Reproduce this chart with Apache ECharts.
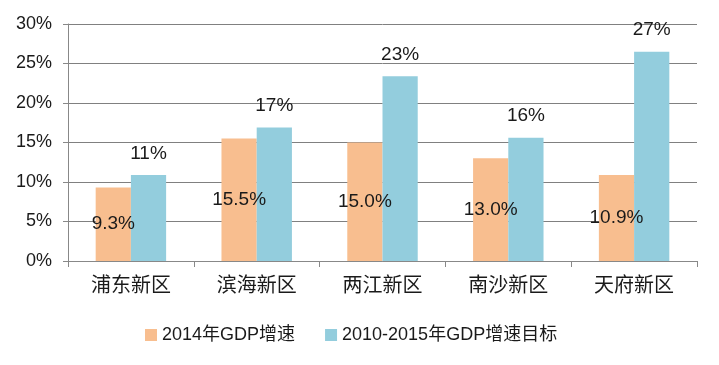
<!DOCTYPE html>
<html><head><meta charset="utf-8">
<script src="https://cdn.jsdelivr.net/npm/echarts@6/dist/echarts.min.js"></script>
<style>html,body{margin:0;padding:0;background:#fff}#c{width:719px;height:365px}</style>
</head><body><div id="c"></div>
<script>
const categories = ["浦东新区","滨海新区","两江新区","南沙新区","天府新区"];
const seriesNames = ["2014年GDP增速","2010-2015年GDP增速目标"];
const gdp2014 = [9.3, 15.5, 15.0, 13.0, 10.9];
const gdp2014Labels = ["9.3%","15.5%","15.0%","13.0%","10.9%"];
const target = [10.9, 16.9, 23.4, 15.6, 26.5];
const targetLabels = ["11%","17%","23%","16%","27%"];
const yTicks = [0,5,10,15,20,25,30];

const FONT = '"Liberation Sans", "Noto Sans CJK SC", sans-serif';
const chart = echarts.init(document.getElementById('c'));
chart.setOption({
  animation: false,
  textStyle: {fontFamily: FONT},
  grid: {left: 68, right: 22, top: 24, bottom: 104},
  legend: {
    left: 140, top: 321, itemWidth: 12, itemHeight: 12, itemGap: 30,
    icon: 'rect',
    textStyle: {fontSize: 18, color: '#1a1a1a', fontFamily: FONT},
    data: seriesNames
  },
  xAxis: {
    type: 'category', data: categories,
    axisLine: {lineStyle: {color: '#888', width: 1}},
    axisTick: {show: true, length: 6, alignWithLabel: false, lineStyle: {color: '#888'}},
    axisLabel: {fontSize: 20, color: '#1a1a1a', margin: 15, fontFamily: FONT}
  },
  yAxis: {
    type: 'value', min: yTicks[0], max: yTicks[yTicks.length-1], interval: 5,
    axisLine: {show: true, lineStyle: {color: '#888'}},
    axisTick: {show: true, length: 5, inside: false, lineStyle: {color: '#888'}},
    splitLine: {lineStyle: {color: '#808080', width: 1}},
    axisLabel: {fontSize: 18, color: '#1a1a1a', margin: 16, formatter: v => v + '%'}
  },
  series: [
    {
      name: seriesNames[0], type: 'bar', data: gdp2014, barGap: '0%', barCategoryGap: '44%',
      itemStyle: {color: '#F8BE8F'},
      label: {show: true, position: 'inside', fontSize: 19, color: '#1a1a1a',
        formatter: p => gdp2014Labels[p.dataIndex]}
    },
    {
      name: seriesNames[1], type: 'bar', data: target,
      itemStyle: {color: '#93CDDD'},
      label: {show: true, position: 'top', distance: 12, fontSize: 19, color: '#1a1a1a',
        formatter: p => targetLabels[p.dataIndex]}
    }
  ]
});
</script></body></html>
